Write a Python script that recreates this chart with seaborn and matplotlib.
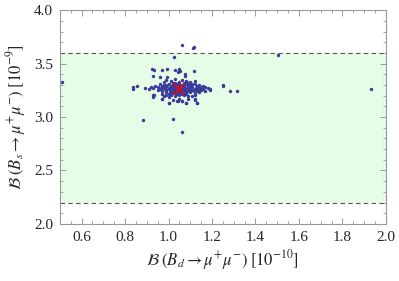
import matplotlib
matplotlib.use('Agg')
import matplotlib.pyplot as plt
import pandas as pd
import seaborn as sns

# limits of the allowed band for B(Bs -> mu mu) [1e-9]
BAND_LO = 2.2
BAND_HI = 3.6

# best fit point
best_bd = 1.046
best_bs = 3.259

# scan points, B(Bd -> mu mu) [1e-10] and B(Bs -> mu mu) [1e-9]
# core of the scan
core_bd = [0.99, 1.01, 1.03, 1.06, 1.08, 1.10, 1.05, 0.98, 1.12, 1.02,
           0.96, 0.98, 1.00, 1.02, 1.04, 1.06, 1.08, 1.10, 1.12, 1.14, 1.07, 1.09, 1.03,
           0.92, 0.94, 0.95, 0.97, 0.99, 1.01, 1.03, 1.05, 1.07, 1.09, 1.11, 1.13, 1.15, 1.17, 1.00, 1.16,
           0.89, 0.91, 0.93, 0.96, 0.98, 1.00, 1.02, 1.04, 1.06, 1.08, 1.10, 1.12, 1.14, 1.16, 1.18, 1.19, 1.11, 1.13,
           0.95, 0.97, 0.99, 1.01, 1.03, 1.05, 1.07, 1.09, 1.13, 1.15, 1.17, 1.19,
           0.97, 0.99, 1.00, 1.02, 1.04, 1.06, 1.08, 1.10, 1.12, 1.14,
           0.98, 0.99, 1.01, 1.03, 1.05, 1.07, 1.09, 1.11, 1.12,
           0.93, 0.93, 0.97, 1.00, 1.00, 1.04, 1.06, 1.08, 1.12, 1.13, 1.05, 1.09, 1.02,
           1.03, 1.05, 1.07, 1.045, 1.065, 1.025, 1.085, 1.015, 1.055, 1.035, 1.075, 1.095,
           0.985, 0.965, 1.125, 1.145, 1.105, 0.995, 1.045, 1.085,
           1.01, 1.02, 1.04, 1.06, 1.08, 1.10, 1.03, 1.05, 1.07, 1.09, 1.11,
           1.02, 1.04, 1.06, 1.08, 1.005, 1.055, 1.075, 1.035, 1.115]
core_bs = [3.35, 3.34, 3.36, 3.35, 3.34, 3.33, 3.33, 3.33, 3.34, 3.32,
           3.31, 3.30, 3.31, 3.30, 3.31, 3.30, 3.31, 3.30, 3.31, 3.30, 3.32, 3.32, 3.32,
           3.28, 3.29, 3.28, 3.29, 3.28, 3.29, 3.28, 3.29, 3.28, 3.29, 3.28, 3.29, 3.28, 3.28, 3.27, 3.29,
           3.27, 3.26, 3.27, 3.26, 3.27, 3.26, 3.27, 3.26, 3.27, 3.26, 3.27, 3.26, 3.27, 3.26, 3.27, 3.26, 3.25, 3.25,
           3.25, 3.24, 3.25, 3.24, 3.25, 3.24, 3.25, 3.24, 3.24, 3.25, 3.24, 3.25,
           3.22, 3.23, 3.22, 3.23, 3.22, 3.23, 3.22, 3.23, 3.22, 3.23,
           3.20, 3.21, 3.21, 3.20, 3.21, 3.21, 3.20, 3.20, 3.21,
           3.21, 3.19, 3.17, 3.19, 3.13, 3.15, 3.15, 3.13, 3.16, 3.13, 3.17, 3.17, 3.16,
           3.265, 3.275, 3.265, 3.255, 3.285, 3.285, 3.275, 3.255, 3.245, 3.235, 3.235, 3.255,
           3.265, 3.275, 3.275, 3.255, 3.285, 3.295, 3.305, 3.305,
           3.275, 3.245, 3.275, 3.255, 3.245, 3.265, 3.295, 3.305, 3.295, 3.315, 3.305,
           3.225, 3.235, 3.215, 3.235, 3.235, 3.225, 3.215, 3.215, 3.245]
# scattered points away from the core
outer_bd = [1.061, 1.115, 1.113, 1.025, 1.502, 0.511, 1.931, 0.883, 1.022, 1.063,
            1.250, 1.253, 1.284, 1.315, 0.836, 0.837, 0.854, 0.926, 0.931, 0.927,
            0.969, 0.991, 1.029, 1.048, 1.054, 1.117, 0.960, 0.995, 1.077, 1.074, 1.042,
            0.933, 0.969, 1.043, 1.063, 1.121, 1.081, 1.129, 1.002]
outer_bs = [3.670, 3.657, 3.650, 3.564, 3.577, 3.324, 3.262, 2.972, 2.979, 2.863,
            3.302, 3.293, 3.240, 3.240, 3.283, 3.264, 3.290, 3.449, 3.439, 3.383,
            3.436, 3.446, 3.442, 3.449, 3.434, 3.427, 3.377, 3.371, 3.383, 3.402, 3.417,
            3.206, 3.171, 3.152, 3.146, 3.165, 3.131, 3.128, 3.128]

df = pd.DataFrame({'bd': core_bd + outer_bd, 'bs': core_bs + outer_bs})

sns.set_style('ticks')
plt.rcParams['font.family'] = ['Liberation Serif', 'DejaVu Serif']
plt.rcParams['mathtext.fontset'] = 'stix'

fig = plt.figure(figsize=(3.99, 2.81), dpi=100)
ax = fig.add_axes([0.150, 0.203, 0.817, 0.761])

ax.axhspan(BAND_LO, BAND_HI, color='#e6fce6', lw=0, zorder=0)
for yv in (BAND_LO, BAND_HI):
    ax.axhline(yv, color='#555555', lw=0.8, ls=(0, (4, 3)), zorder=1)

sns.scatterplot(data=df, x='bd', y='bs', ax=ax, color='#3b3b9b', s=6,
                linewidth=0, zorder=2, legend=False)
ax.plot([best_bd], [best_bs], marker='x', color='#ff0000', ms=7, mew=1.3,
        ls='none', zorder=3)

ax.set_xlim(0.5, 2.0)
ax.set_ylim(2.0, 4.0)
ax.set_xticks([0.6, 0.8, 1.0, 1.2, 1.4, 1.6, 1.8, 2.0])
ax.set_yticks([2.0, 2.5, 3.0, 3.5, 4.0])
ax.xaxis.set_minor_locator(matplotlib.ticker.MultipleLocator(0.05))
ax.yaxis.set_minor_locator(matplotlib.ticker.MultipleLocator(0.1))
ax.tick_params(which='both', direction='in', top=True, right=True,
               color='#999999', labelsize=11, pad=5)
ax.tick_params(which='major', length=4, width=0.7)
ax.tick_params(which='minor', length=2, width=0.6)
for sp in ax.spines.values():
    sp.set_color('#999999')
    sp.set_linewidth(0.8)

ax.set_xlabel(r'$\mathcal{B}\;(B_d \rightarrow \mu^{+}\mu^{-})\;[10^{-10}]$',
              fontsize=12, labelpad=3)
ax.set_ylabel(r'$\mathcal{B}\;(B_s \rightarrow \mu^{+}\mu^{-})\;[10^{-9}]$',
              fontsize=12, labelpad=4)

fig.savefig('out.png', dpi=100)
